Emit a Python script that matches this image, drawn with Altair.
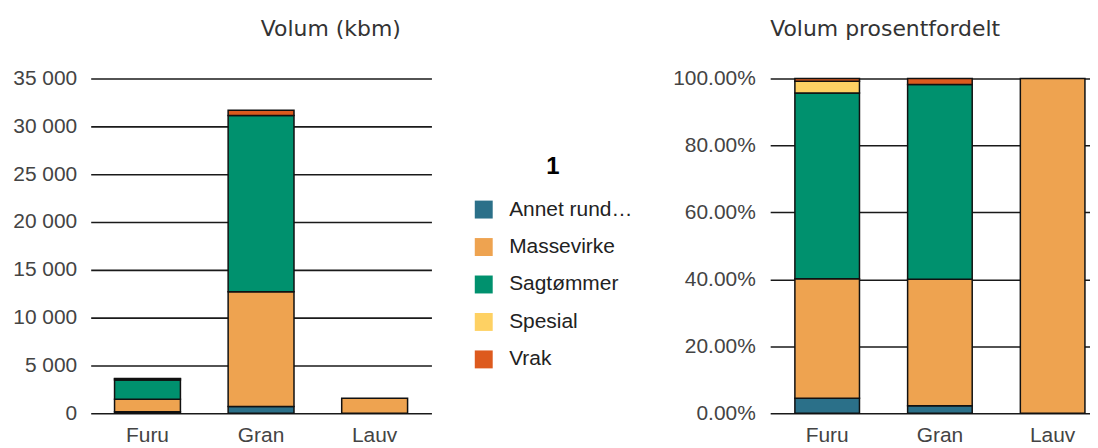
import altair as alt
import pandas as pd

treslag = ["Furu", "Gran", "Lauv"]
sortiment = ["Annet rundvirke", "Massevirke", "Sagtømmer", "Spesial", "Vrak"]
farger = ["#2b7089", "#eea350", "#00916e", "#fed163", "#dd5a1e"]
furu = [163, 1305, 2027, 128, 29]
gran = [720, 11980, 18430, 0, 560]
lauv = [0, 1570, 0, 0, 0]
volum_ticks = [0, 5000, 10000, 15000, 20000, 25000, 30000, 35000]
prosent_ticks = [0, 0.2, 0.4, 0.6, 0.8, 1.0]

rows = []
for t, vals in zip(treslag, [furu, gran, lauv]):
    for i, (s, v) in enumerate(zip(sortiment, vals)):
        if v > 0:
            rows.append({"Treslag": t, "Sortiment": s, "Volum": v, "idx": i})
df = pd.DataFrame(rows)

LABEL_FONT = "Liberation Sans"
TITLE_FONT = "DejaVu Sans"

def x_enc(scale):
    return alt.X(
        "Treslag:N",
        sort=treslag,
        scale=scale,
        axis=alt.Axis(title=None, labelAngle=0, domain=False, ticks=False,
                      labelPadding=11, labelFontSize=21, labelColor="#444",
                      labelFont=LABEL_FONT, grid=False),
    )

def y_axis(**kw):
    return alt.Axis(title=None, domain=False, ticks=False, grid=True,
                    gridColor="#1a1a1a", gridWidth=1.6, labelFontSize=21,
                    labelColor="#444", labelFont=LABEL_FONT, **kw)

color_scale = alt.Scale(domain=sortiment, range=farger)

left = alt.Chart(
    df,
    title=alt.Title("Volum (kbm)", anchor="middle", dx=70, offset=27,
                    fontSize=22, font=TITLE_FONT, fontWeight="normal", color="#333"),
).mark_bar(stroke="#111", strokeWidth=1.5).encode(
    x=x_enc(alt.Scale(paddingInner=0.42, paddingOuter=0.21)),
    y=alt.Y("Volum:Q", stack="zero",
            scale=alt.Scale(domain=[0, 35000], nice=False),
            axis=y_axis(values=volum_ticks, labelPadding=14,
                        labelExpr="replace(format(datum.value, ',d'), ',', ' ')")),
    color=alt.Color("Sortiment:N", scale=color_scale,
                    legend=alt.Legend(
                        title="1", orient="none", legendX=384, legendY=77,
                        titleFontSize=24, titleFontWeight="bold", titleColor="#000",
                        titleFont=LABEL_FONT, titleAnchor="middle", titleAlign="center",
                        titlePadding=20, labelFontSize=21, labelFont=LABEL_FONT,
                        labelColor="#222", labelLimit=128, symbolType="square",
                        symbolSize=324, symbolStrokeWidth=0, labelOffset=15,
                        rowPadding=15.6, padding=0)),
    order=alt.Order("idx:Q", sort="ascending"),
).properties(width=342, height=336)

right = alt.Chart(
    df,
    title=alt.Title("Volum prosentfordelt", anchor="start", frame="group", offset=27,
                    fontSize=22, font=TITLE_FONT, fontWeight="normal", color="#333"),
).mark_bar(stroke="#111", strokeWidth=1.5).encode(
    x=x_enc(alt.Scale(paddingInner=0.427, paddingOuter=0.132, align=0.83)),
    y=alt.Y("Volum:Q", stack="normalize",
            scale=alt.Scale(domain=[0, 1], nice=False),
            axis=y_axis(values=prosent_ticks, labelPadding=15,
                        labelExpr="format(datum.value, '.2%')")),
    color=alt.Color("Sortiment:N", scale=color_scale, legend=None),
    order=alt.Order("idx:Q", sort="ascending"),
).properties(width=321, height=336)

chart = alt.hconcat(left, right, spacing=40).resolve_scale(
    color="independent"
).resolve_legend(color="independent").properties(
    padding={"left": 4, "top": 9, "right": 0, "bottom": 0}
).configure_view(strokeWidth=0)

chart.save("out.html", embed_options={"renderer": "svg", "actions": False})
